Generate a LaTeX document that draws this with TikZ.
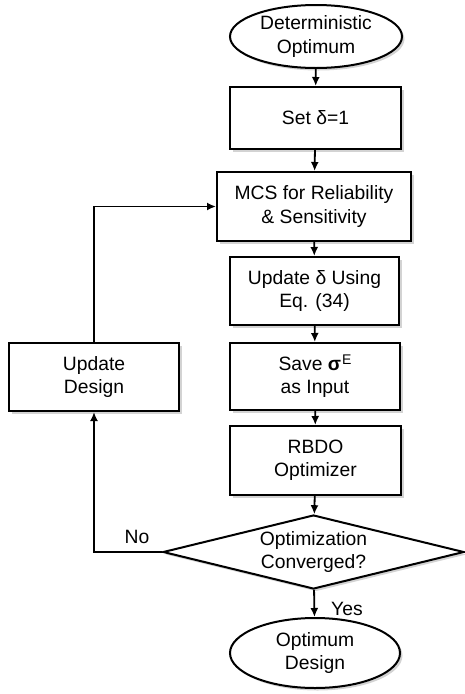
\documentclass[tikz,border=0pt]{standalone}
\usepackage{fontspec}
\setmainfont{Liberation Sans}
\usetikzlibrary{shapes.geometric,shadows,arrows.meta}
\begin{document}
\begin{tikzpicture}[x=1pt,y=-1pt,
  every node/.style={font=\fontsize{19.3}{23.5}\selectfont},
  shad/.style={drop shadow={shadow xshift=2.5pt,shadow yshift=-2.5pt,opacity=0.35,fill=gray}},
  procbox/.style={draw,line width=2pt,fill=white,shad,align=center,inner sep=0pt},
  termnode/.style={draw,ellipse,line width=2pt,fill=white,shad,inner sep=0pt},
  decnode/.style={draw,diamond,line width=2pt,fill=white,shad,inner sep=0pt,aspect=4.07},
  txt/.style={align=center,inner sep=0pt},
  conn/.style={line width=1.8pt,-{Latex[length=9pt,width=8pt]}},
  plain/.style={line width=1.8pt}]
\useasboundingbox (0,0) rectangle (465,694);

\node[termnode,minimum width=172pt,minimum height=63pt] (start) at (316,36.5) {};
\node[txt] at (start) {Deterministic\\Optimum};

\node[procbox,minimum width=171pt,minimum height=62pt] (setd) at (315.5,118) {Set δ=1};
\node[procbox,minimum width=194pt,minimum height=69pt] (mcs) at (314,206.5) {MCS for Reliability\\\& Sensitivity};
\node[procbox,minimum width=169pt,minimum height=68pt] (upd) at (314.5,291) {Update δ Using\\Eq. (34)};
\node[procbox,minimum width=170pt,minimum height=67pt] (save) at (315,376.5) {Save \textbf{σ}\kern1pt\raisebox{0.55ex}{\fontsize{14}{14}\selectfont E}\\as Input};
\node[procbox,minimum width=170pt,minimum height=68pt] (updd) at (94,377) {Update\\Design};
\node[procbox,minimum width=171pt,minimum height=69pt] (rbdo) at (315.5,460.5) {RBDO\\Optimizer};

\node[decnode,minimum width=301pt,minimum height=74pt] (dec) at (313.5,552) {};
\node[txt] at (dec) {Optimization\\Converged?};

\node[termnode,minimum width=170pt,minimum height=70pt] (end) at (315,653) {};
\node[txt] at (end) {Optimum\\Design};

\coordinate (cl) at (94,552);
\coordinate (ct) at (94,206.5);

\draw[conn] (start) -- (setd);
\draw[conn] (setd) -- (mcs);
\draw[conn] (mcs) -- (upd);
\draw[conn] (upd) -- (save);
\draw[conn] (save) -- (rbdo);
\draw[conn] (rbdo) -- (dec);
\draw[conn] (dec) -- (end);
\draw[conn] (dec.west) -- (cl) -- (updd.south);
\draw[conn] (updd.north) -- (ct) -- (mcs.west);

\node[txt,anchor=west] (yes) at (331,609) {Yes};
\node[txt] (no) at (137,537) {No};
\end{tikzpicture}
\end{document}
